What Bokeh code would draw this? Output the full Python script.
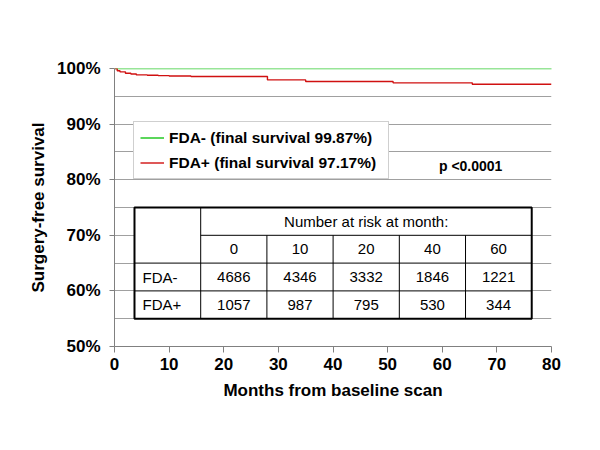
from bokeh.plotting import figure
from bokeh.models import FixedTicker, Legend, LegendItem, Label, CustomJSTickFormatter
from bokeh.embed import file_html
from bokeh.resources import INLINE
from bokeh.core.properties import value

# ---------------- data ----------------
neg_label = "FDA- (final survival 99.87%)"
pos_label = "FDA+ (final survival 97.17%)"
neg_months = [0, 66, 80]
neg_surv = [100.0, 100.0, 99.87]
pos_months = [0, 0.5, 1, 2, 3, 4, 6, 8, 10, 14, 28, 35, 51, 65.5, 80]
pos_surv = [100.0, 99.6, 99.4, 99.15, 99.0, 98.85, 98.78, 98.72, 98.65, 98.55,
            97.95, 97.65, 97.42, 97.17, 97.17]
p_value_text = "p <0.0001"

risk_header = "Number at risk at month:"
risk_months = [0, 10, 20, 40, 60]
risk_groups = ["FDA-", "FDA+"]
risk_neg = [4686, 4346, 3332, 1846, 1221]
risk_pos = [1057, 987, 795, 530, 344]

x_ticks = [0, 10, 20, 30, 40, 50, 60, 70, 80]
y_ticks = [50, 60, 70, 80, 90, 100]
y_minor = [55, 65, 75, 85, 95]

FONT = "Liberation Sans"
GRID = "#a0a0a0"
AXIS = "#808080"

p = figure(frame_width=437, frame_height=278, x_range=(0, 80), y_range=(50, 100),
           output_backend="svg", toolbar_location=None,
           min_border_left=114, min_border_right=33, min_border_top=68, min_border_bottom=84)
p.outline_line_color = None
p.background_fill_color = "white"
p.xgrid.grid_line_color = None
p.ygrid.grid_line_color = GRID
p.ygrid.minor_grid_line_color = GRID

# axes
p.xaxis.ticker = FixedTicker(ticks=x_ticks)
p.yaxis.ticker = FixedTicker(ticks=y_ticks, minor_ticks=y_minor)
p.yaxis.formatter = CustomJSTickFormatter(code="return tick + '%';")
for ax in (p.xaxis[0], p.yaxis[0]):
    ax.axis_line_color = AXIS
    ax.major_tick_line_color = AXIS
    ax.major_tick_in = 0
    ax.minor_tick_in = 0
    ax.minor_tick_out = 0
    ax.major_label_text_font = FONT
    ax.major_label_text_font_style = "bold"
    ax.major_label_text_font_size = "17px"
    ax.major_label_text_color = "black"
    ax.axis_label_text_font = FONT
    ax.axis_label_text_font_style = "bold"
    ax.axis_label_text_font_size = "17px"
    ax.axis_label_text_color = "black"
p.xaxis.major_tick_out = 6
p.xaxis.major_label_standoff = 5
p.xaxis.axis_label = "Months from baseline scan"
p.xaxis.axis_label_standoff = 8
p.yaxis.major_tick_out = 5
p.yaxis.major_label_standoff = 9
p.yaxis.axis_label = "Surgery-free survival"
p.yaxis.axis_label_standoff = 6

# ---------------- risk table (layout in data coords) ----------------
tbl_x0 = 3.66
col_w = 12.12
tbl_x1 = tbl_x0 + 6 * col_w
tbl_y0 = 55
tbl_y1 = 75

p.quad(left=[tbl_x0], right=[tbl_x1], bottom=[tbl_y0], top=[tbl_y1],
       fill_color="white", line_color=None)

seg_x0, seg_y0, seg_x1, seg_y1 = [], [], [], []
seg_x0.append(tbl_x0 + col_w); seg_x1.append(tbl_x1); seg_y0.append(70); seg_y1.append(70)
for yy in (65, 60):
    seg_x0.append(tbl_x0); seg_x1.append(tbl_x1); seg_y0.append(yy); seg_y1.append(yy)
seg_x0.append(tbl_x0 + col_w); seg_x1.append(tbl_x0 + col_w); seg_y0.append(tbl_y0); seg_y1.append(tbl_y1)
for k in range(2, 6):
    xx = tbl_x0 + k * col_w
    seg_x0.append(xx); seg_x1.append(xx); seg_y0.append(tbl_y0); seg_y1.append(70)
p.segment(x0=seg_x0, y0=seg_y0, x1=seg_x1, y1=seg_y1, line_color="black", line_width=1)
p.quad(left=[tbl_x0], right=[tbl_x1], bottom=[tbl_y0], top=[tbl_y1],
       fill_color=None, line_color="black", line_width=2)

col_centers = [tbl_x0 + (k + 1.5) * col_w for k in range(5)]
txt_x, txt_y, txt_s = [], [], []
txt_x.append(tbl_x0 + 3.5 * col_w); txt_y.append(72.5); txt_s.append(risk_header)
for cx, m in zip(col_centers, risk_months):
    txt_x.append(cx); txt_y.append(67.5); txt_s.append(str(m))
for cx, v in zip(col_centers, risk_neg):
    txt_x.append(cx); txt_y.append(62.5); txt_s.append(str(v))
for cx, v in zip(col_centers, risk_pos):
    txt_x.append(cx); txt_y.append(57.5); txt_s.append(str(v))
p.text(x=txt_x, y=txt_y, text=txt_s, text_font=value(FONT), text_font_size="15px",
       text_align="center", text_baseline="middle", text_color="black")
p.text(x=[tbl_x0, tbl_x0], y=[62.5, 57.5], text=risk_groups, text_font=value(FONT),
       text_font_size="15px", text_align="left", text_baseline="middle",
       text_color="black", x_offset=8)

# ---------------- survival curves ----------------
r_neg = p.step(neg_months, neg_surv, mode="after", line_color="#33cc33", line_width=1.6)
r_pos = p.step(pos_months, pos_surv, mode="after", line_color="#d01010", line_width=1.4)

legend = Legend(items=[LegendItem(label=neg_label, renderers=[r_neg]),
                       LegendItem(label=pos_label, renderers=[r_pos])],
                location=(19, 167), margin=0, padding=6, spacing=6,
                glyph_height=19, label_height=19, glyph_width=24, label_standoff=5,
                label_width=213,
                border_line_color=GRID, border_line_width=1,
                background_fill_color="white", background_fill_alpha=1.0,
                label_text_font=FONT, label_text_font_style="bold",
                label_text_font_size="15.5px", label_text_color="black")
p.add_layout(legend)

p.add_layout(Label(x=65.2, y=82.5, text=p_value_text, text_font=FONT,
                   text_font_style="bold", text_font_size="14px",
                   text_align="center", text_baseline="middle", text_color="black"))

open("out.html", "w").write(file_html(p, INLINE))
